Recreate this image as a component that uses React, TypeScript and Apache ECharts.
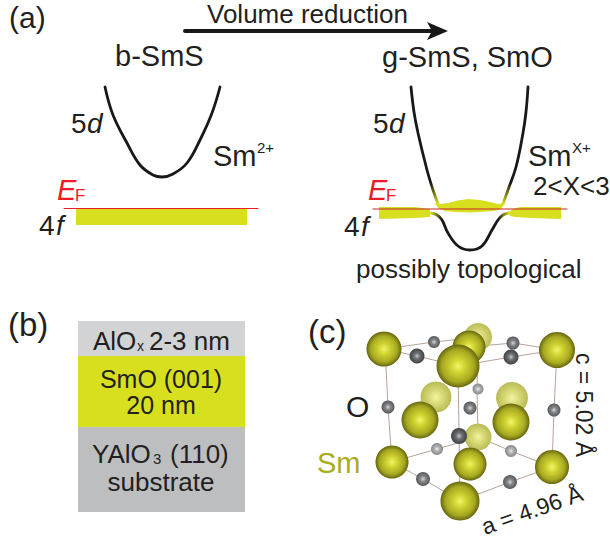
import React, { useEffect, useRef } from "react";
import * as echarts from "echarts";

const INK = "#231f20";
const RED = "#ed1c24";
const LIME = "#d7df1e";
const FONT = '"Liberation Sans", Arial, sans-serif';

// ---- panel (a) band curves
const leftBand5d = [[105,87],[113,115],[127,143],[140,165],[153,175],[162,177],[173,174],[187,163],[200,140],[212,113],[220,87]];
const rightBand5dL = [[411,87],[414,112],[418,133],[427,170],[433,190],[438,204]];
const rightBand5dR = [[528,87],[526,112],[523,133],[516,167],[508,190],[503,204]];
const rightBand4f = [[431,213],[437,215],[442,220],[448,233],[458,246],[470,250],[482,246],[492,230],[498,220],[503,215],[509,213]];
const fermiLeft = [[64,208.5],[258,208.5]];
const fermiRight = [[373,209],[567,209]];
const arrowShaft = [[185,31],[432,31]];
const lens4fMid = [[435,203],[441,204],[448,203],[458,200.5],[468,199],[480,200],[490,202],[498,204],[505,203],[501,209],[494,211],[480,212],[470,212.5],[455,212],[445,211],[438,208]];
const flat4fL = [[379,207],[415,207],[430,209],[430,217],[415,218],[379,219]];
const flat4fR = [[509,212],[513,209],[520,207],[561,207],[561,219],[530,218],[515,217],[510,216]];
const flat4fLeftPanel = [[76,209],[247,209],[247,225],[76,225]];

// ---- panel (b) layers: [left, top, right, bottom]
const layers = [[78,321,245,356],[78,356,245,427],[78,427,245,512]];
const layerColors = ["#d1d3d4", LIME, "#bcbec0"];

// ---- panel (c) crystal: [x, y, diameter, shade]
const smAtoms = [
  [478,337,28,1],[469,347,33,0],[458,366,43,0],
  [384,349,35,0],[557,350,36,0],
  [436,397,31,1],[420,420,37,0],[512,398,32,1],[511,422,37,0],[478,437,27,1],
  [392,462,33,0],[470,464,33,0],[552,467,34,0],[460,501,39,0]
];
const oAtoms = [
  [434,342,12,1],[513,343,13,1],[417,356,15,0],[511,357,15,0],
  [478,389,11,2],[388,407,13,1],[470,408,13,1],[554,410,13,1],
  [459,436,16,0],[437,449,12,2],[511,451,12,2],[423,479,14,1],[510,482,14,1]
];
const bonds = [
  [[384,349],[434,342],[470,338]],
  [[384,349],[417,356],[458,366]],
  [[458,366],[511,357],[557,350]],
  [[469,347],[513,343],[557,350]],
  [[386,367],[388,407],[392,462]],
  [[557,350],[554,410],[552,467]],
  [[458,366],[460,501]],
  [[478,337],[477,389],[478,437]],
  [[392,462],[423,479],[460,501]],
  [[460,501],[510,482],[552,467]],
  [[392,462],[437,449],[478,437]],
  [[478,437],[511,451],[552,467]]
];

// ---- texts: [text, x, baseline, size, colour, italic]
const labels: [string, number, number, number, string, boolean?][] = [
  ["(a)", 9, 28, 30, INK],
  ["Volume reduction", 207, 23, 26, INK],
  ["b-SmS", 115, 66, 29, INK],
  ["5", 71, 133, 28, INK],
  ["d", 87, 133, 28, INK, true],
  ["Sm", 213, 166, 29, INK],
  ["2+", 257, 153, 15, INK],
  ["E", 57, 200, 29, RED, true],
  ["F", 75, 201, 17, RED],
  ["4", 39, 235, 28, INK],
  ["f", 56, 235, 28, INK, true],
  ["g-SmS, SmO", 382, 67, 29, INK],
  ["5", 373, 133, 28, INK],
  ["d", 389, 133, 28, INK, true],
  ["Sm", 528, 166, 29, INK],
  ["X+", 572, 153, 15, INK],
  ["2<X<3", 533, 195, 26, INK],
  ["E", 368, 200, 29, RED, true],
  ["F", 386, 201, 17, RED],
  ["4", 344, 236, 28, INK],
  ["f", 361, 236, 28, INK, true],
  ["possibly topological", 356, 278, 26, INK],
  ["(b)", 8, 336, 33, INK],
  ["AlO", 93, 350, 26, INK],
  ["x", 137, 351, 14, INK],
  ["2-3 nm", 149, 350, 26, INK],
  ["YAlO", 92, 463, 26, INK],
  ["3", 153, 464, 15, INK],
  ["(110)", 170, 463, 26, INK],
  ["(c)", 308, 343, 33, INK],
  ["O", 346, 417, 30, INK],
  ["Sm", 317, 473, 29, "#a8ad1a"]
];
const centered: [string, number, number, number][] = [
  ["SmO (001)\n20 nm", 161, 401, 25],
  ["substrate", 161, 491, 26]
];
const rotated: [string, number, number, number, number][] = [
  ["c = 5.02 Å", 584, 405, 23, -Math.PI / 2],
  ["a = 4.96 Å", 532, 510, 23, 0.34]
];

const smGradient = (pale: number) => ({
  type: "radial", x: 0.5, y: 0.5, r: 0.5,
  colorStops: pale
    ? [{ offset: 0, color: "#f2f4a0" }, { offset: 0.45, color: "#d8da78" }, { offset: 1, color: "#b9bb55" }]
    : [{ offset: 0, color: "#f3f56a" }, { offset: 0.3, color: "#d2d532" }, { offset: 0.75, color: "#a6a821" }, { offset: 1, color: "#66660f" }]
});
const oGradient = (shade: number) => {
  const edge = ["#3f4144", "#55575a", "#85878a"][shade];
  const mid = ["#6d6f72", "#85878a", "#b0b2b4"][shade];
  const c = ["#c4c6c8", "#d8d9da", "#eeeeee"][shade];
  return { type: "radial", x: 0.5, y: 0.5, r: 0.5, colorStops: [{ offset: 0, color: c }, { offset: 0.4, color: mid }, { offset: 1, color: edge }] };
};

const polygonSeries = (pts: number[][], fill: string) => ({
  type: "custom", coordinateSystem: "cartesian2d", clip: false, silent: true, z: 3,
  data: pts,
  renderItem: (_p: any, api: any) => {
    if (api.value(0) !== pts[0][0] || api.value(1) !== pts[0][1]) return null;
    return { type: "polygon", shape: { points: pts.map((p) => api.coord(p)) }, style: { fill } };
  }
});

const curve = (data: number[][], color: any, width: number, z = 4, smooth: number | boolean = 0.4) => ({
  type: "line", data, smooth, symbol: "none", silent: true, clip: false, z,
  lineStyle: { color, width, cap: "round" }
});

export default function App() {
  const ref = useRef<HTMLDivElement>(null);
  useEffect(() => {
    document.body.style.margin = "0";
    const chart = echarts.init(ref.current!, undefined, { renderer: "svg" });
    const vFade = (a: number) => new echarts.graphic.LinearGradient(0, 0, 0, 1, [
      { offset: 0, color: "#1a1718" }, { offset: a, color: "#1a1718" }, { offset: 1, color: LIME }
    ]);
    const hFade = new echarts.graphic.LinearGradient(0, 0, 1, 0, [
      { offset: 0, color: LIME }, { offset: 0.14, color: "#1a1718" }, { offset: 0.86, color: "#1a1718" }, { offset: 1, color: LIME }
    ]);
    const textEl = (t: string, x: number, base: number, size: number, fill: string, italic?: boolean, align = "left") => ({
      type: "text", z: 100, silent: true, x, y: base - 0.35 * size,
      style: { text: t, fill, align, verticalAlign: "middle", lineHeight: t.includes("\n") ? 26 : size, font: `${italic ? "italic " : ""}${size}px ${FONT}` }
    });
    chart.setOption({
      animation: false,
      backgroundColor: "#ffffff",
      grid: { left: 0, top: 0, right: 0, bottom: 0 },
      xAxis: { type: "value", min: 0, max: 610, show: false },
      yAxis: { type: "value", min: 0, max: 540, inverse: true, show: false },
      series: [
        curve(leftBand5d, "#1a1718", 2.8),
        polygonSeries(flat4fLeftPanel, LIME),
        curve(fermiLeft, RED, 1, 6, false),
        curve(arrowShaft, "#1a1718", 4, 4, false),
        polygonSeries(flat4fL, LIME),
        polygonSeries(flat4fR, LIME),
        polygonSeries(lens4fMid, LIME),
        curve(rightBand5dL, vFade(0.82), 2.8),
        curve(rightBand5dR, vFade(0.82), 2.8),
        curve(rightBand4f, hFade, 2.8),
        curve(fermiRight, "#c8202a", 1, 6, false),
        {
          type: "custom", coordinateSystem: "cartesian2d", clip: false, silent: true, z: 2,
          data: layers,
          renderItem: (p: any, api: any) => {
            const a = api.coord([api.value(0), api.value(1)]);
            const b = api.coord([api.value(2), api.value(3)]);
            return { type: "rect", shape: { x: a[0], y: a[1], width: b[0] - a[0], height: b[1] - a[1] }, style: { fill: layerColors[p.dataIndex] } };
          }
        },
        ...bonds.map((b) => curve(b, "#a58a7e", 0.8, 5, false)),
        {
          type: "scatter", z: 6, silent: true, clip: false,
          data: smAtoms.map((a) => ({ value: [a[0], a[1]], symbolSize: a[2], itemStyle: { color: smGradient(a[3]), opacity: 1 } }))
        },
        {
          type: "scatter", z: 7, silent: true, clip: false,
          data: oAtoms.map((a) => ({ value: [a[0], a[1]], symbolSize: a[2], itemStyle: { color: oGradient(a[3]), opacity: 1 } }))
        }
      ],
      graphic: [
        { type: "polygon", z: 50, silent: true, shape: { points: [[427, 22], [448, 31], [427, 40], [432, 31]] }, style: { fill: "#1a1718" } },
        ...labels.map((l) => textEl(l[0], l[1], l[2], l[3], l[4], l[5])),
        ...centered.map((l) => textEl(l[0], l[1], l[2], l[3], INK, false, "center")),
        ...rotated.map((l) => ({
          type: "text", z: 100, silent: true, x: l[1], y: l[2], rotation: l[4],
          style: { text: l[0], fill: INK, align: "center", verticalAlign: "middle", font: `${l[3]}px ${FONT}` }
        }))
      ]
    });
    return () => chart.dispose();
  }, []);
  return <div ref={ref} style={{ position: "absolute", left: 0, top: 0, width: 610, height: 540 }} />;
}
